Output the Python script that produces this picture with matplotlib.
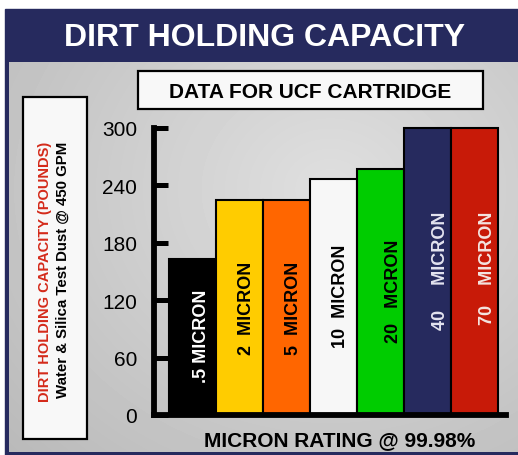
import numpy as np
import matplotlib.pyplot as plt
from matplotlib.patches import Rectangle

plt.rcParams['font.family'] = ['Liberation Sans', 'DejaVu Sans']

# data
microns = ['.5', '2', '5', '10', '20', '40', '70']
capacity = [163, 225, 225, 247, 257, 300, 300]
bar_labels = ['.5 MICRON', '2  MICRON', '5  MICRON', '10  MICRON',
              '20   MCRON', '40     MICRON', '70    MICRON']
bar_colors = ['#000000', '#ffcc00', '#ff6600', '#f7f7f7', '#00cc00', '#262a5e', '#c81a08']
label_colors = ['white', 'black', 'black', 'black', 'black', '#e4e4f0', '#f4e4e0']
yticks = [0, 60, 120, 180, 240, 300]

# where the rotated labels sit inside the bars
label_base = [35, 64, 64, 71, 76, 90, 95]
label_dx = [0.2, 0.15, 0.15, 0.15, 0.27, 0.27, 0.27]

navy = '#262a5e'
W, H = 518, 456
fig = plt.figure(figsize=(W / 100, H / 100), dpi=100)
fig.patch.set_facecolor('white')

# background frame, drawn in pixel units
bg = fig.add_axes([0, 0, 1, 1])
bg.add_patch(Rectangle((5, 10), W - 5, H - 10, color=navy, zorder=0))
yy, xx = np.mgrid[63:453, 9:W]
d = np.hypot((xx - 330) / 300, (yy - 190) / 260)
shade = 0.875 - 0.1 * d
bg.imshow(shade, cmap='gray', vmin=0, vmax=1, extent=(9, W, 453, 63),
          aspect='auto', interpolation='bilinear', zorder=1)
bg.set_xlim(0, W)
bg.set_ylim(H, 0)
bg.axis('off')

bg.text(265, 38, 'DIRT HOLDING CAPACITY', color='white', fontsize=23,
        fontweight='bold', ha='center', va='center')

bg.add_patch(Rectangle((138, 72), 345, 38, facecolor='#f8f8f8', edgecolor='black',
                       linewidth=1.6, zorder=2))
bg.text(310, 92, 'DATA FOR UCF CARTRIDGE', fontsize=15, fontweight='bold',
        ha='center', va='center', zorder=3)

bg.add_patch(Rectangle((23, 98), 64, 342, facecolor='#f8f8f8', edgecolor='black',
                       linewidth=1.6, zorder=2))
bg.text(45, 272, 'DIRT HOLDING CAPACITY (POUNDS)', color='#d42a1a', fontsize=10.5,
        fontweight='bold', rotation=90, ha='center', va='center', zorder=3)
bg.text(63, 270, 'Water & Silica Test Dust @ 450 GPM', fontsize=10.8,
        fontweight='bold', rotation=90, ha='center', va='center', zorder=3)

bg.text(340, 441, 'MICRON RATING @ 99.98%', fontsize=15, fontweight='bold',
        ha='center', va='center', zorder=3)

# the chart
ax = fig.add_axes([154 / W, (H - 416) / H, (506 - 154) / W, (416 - 129) / H])
ax.set_facecolor('none')
x = np.arange(len(microns))
ax.bar(x, capacity, width=1, color=bar_colors, edgecolor='black', linewidth=1.5,
       clip_on=False, zorder=2)
for i in range(len(microns)):
    ax.text(x[i] + label_dx[i], label_base[i], bar_labels[i], rotation=90,
            ha='center', va='bottom', fontsize=13, fontweight='bold',
            color=label_colors[i], zorder=3)

ax.set_xlim(-0.82, 6.67)
ax.set_ylim(0, 300)
ax.set_xticks([])
ax.set_yticks(yticks)
ax.tick_params(axis='y', direction='in', length=10, width=3.6, pad=12, labelsize=15)
ax.spines['top'].set_visible(False)
ax.spines['right'].set_visible(False)
for s in ['left', 'bottom']:
    ax.spines[s].set_linewidth(4.2)
    ax.spines[s].set_capstyle('projecting')
    ax.spines[s].set_zorder(4)

plt.savefig('out.png', dpi=100)
